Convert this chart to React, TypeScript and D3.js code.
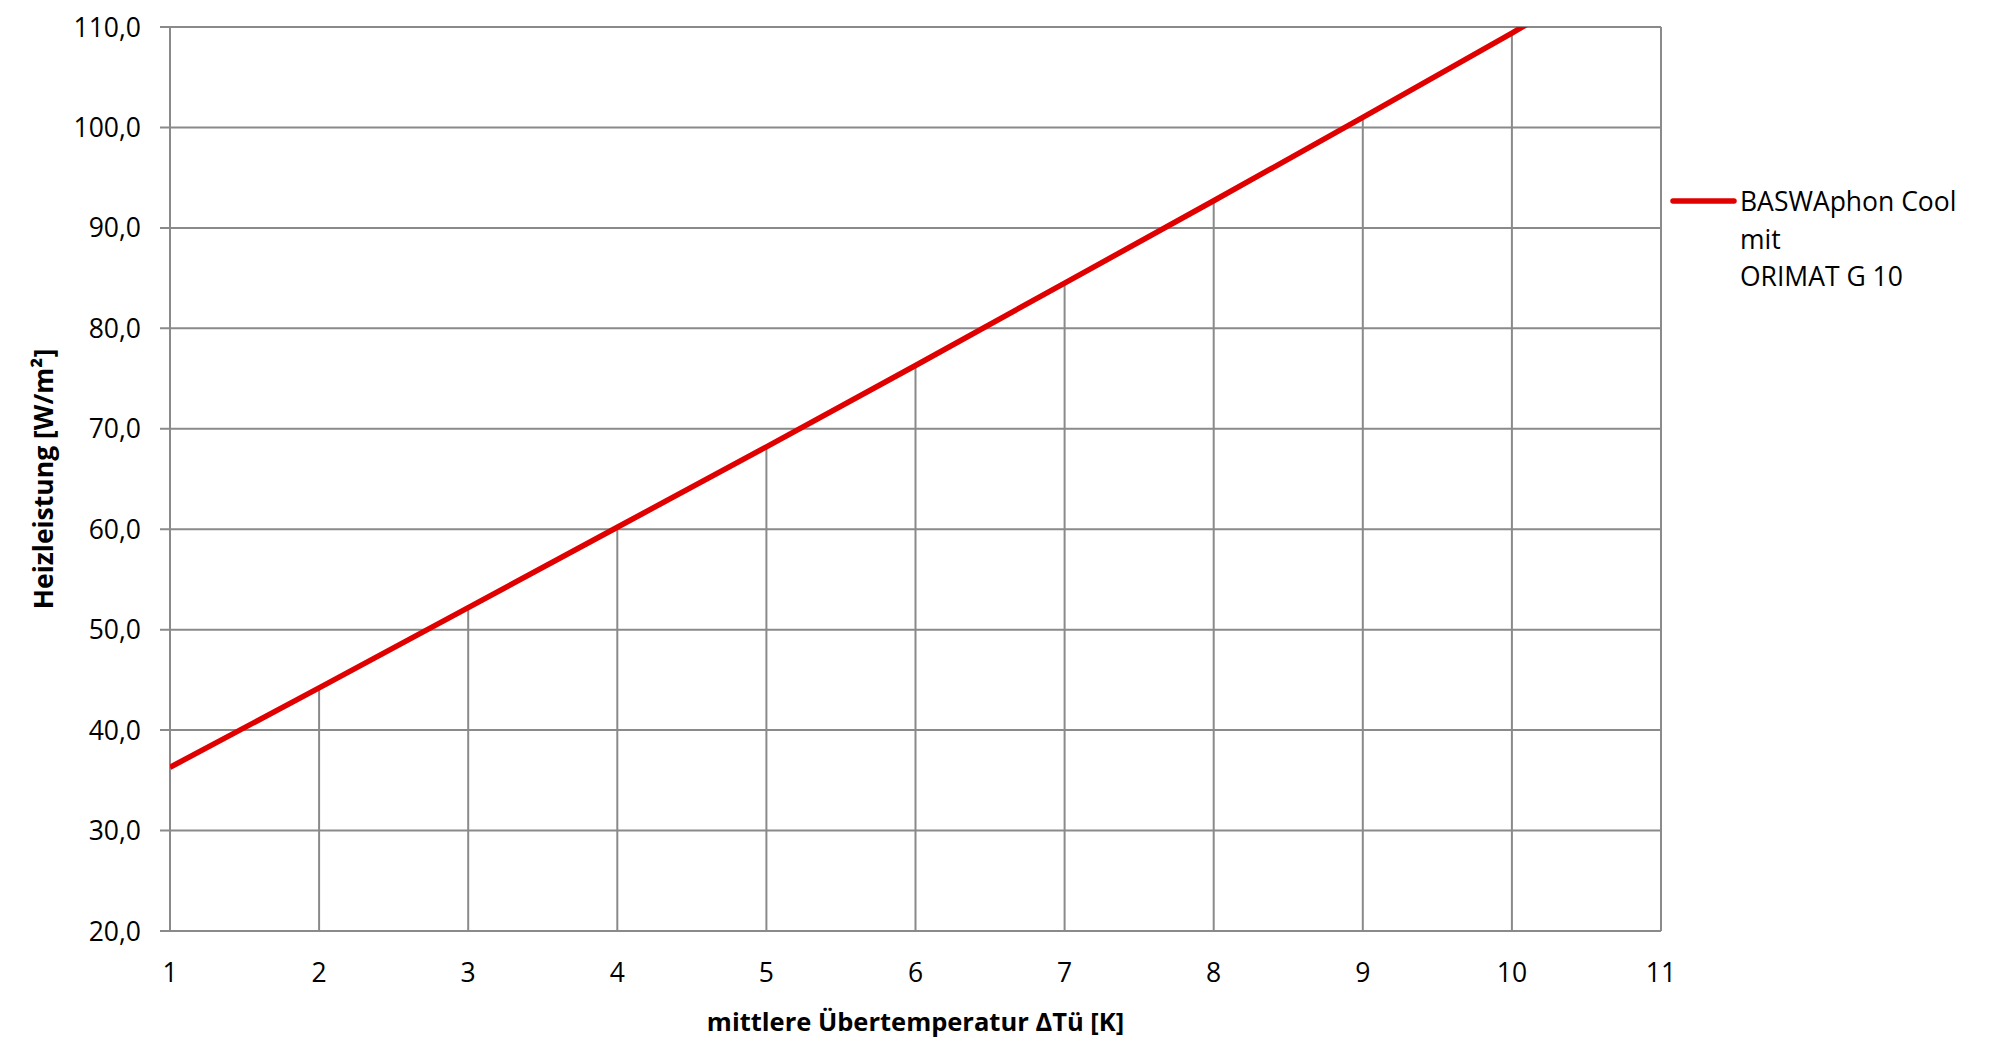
import React, { useRef, useEffect } from 'react';
import * as d3 from 'd3';

// Heizleistung über mittlere Übertemperatur
const deltaT = [1, 2, 3, 4, 5, 6, 7, 8, 9, 10, 11];
const heizleistung = [36.3, 44.2, 52.2, 60.2, 68.2, 76.3, 84.5, 92.7, 101.0, 109.4, 118.0];
const yTicks = [20, 30, 40, 50, 60, 70, 80, 90, 100, 110];
const xTicks = [1, 2, 3, 4, 5, 6, 7, 8, 9, 10, 11];
const seriesLabel = ['BASWAphon Cool', 'mit', 'ORIMAT G 10'];
const xTitle = 'mittlere Übertemperatur ΔTü [K]';
const yTitle = 'Heizleistung [W/m²]';

const App: React.FC = () => {
  const ref = useRef<SVGSVGElement | null>(null);
  const width = 2008;
  const height = 1059;

  useEffect(() => {
    if (!ref.current) return;
    const svg = d3.select(ref.current);
    svg.selectAll('*').remove();

    const left = 170, right = 1661, top = 27, bottom = 931;
    const font = "'Open Sans', sans-serif";
    const grid = '#8a8a8a';
    const red = '#e00000';

    const x = d3.scaleLinear().domain([1, 11]).range([left, right]);
    const y = d3.scaleLinear().domain([20, 110]).range([bottom, top]);
    const fmt = (v: number) => d3.format('.1f')(v).replace('.', ',');

    svg.append('rect').attr('width', width).attr('height', height).attr('fill', '#fff');

    svg.append('defs').append('clipPath').attr('id', 'plot')
      .append('rect').attr('x', left).attr('y', top).attr('width', right - left).attr('height', bottom - top);

    // horizontal gridlines with outer tick
    svg.append('g').selectAll('line').data(yTicks).enter().append('line')
      .attr('x1', left - 10).attr('x2', right)
      .attr('y1', d => y(d)).attr('y2', d => y(d))
      .attr('stroke', grid).attr('stroke-width', 2);

    // drop lines
    const pts = deltaT.map((d, i) => ({ x: d, v: heizleistung[i] }));
    svg.append('g').attr('clip-path', 'url(#plot)').selectAll('line').data(pts).enter().append('line')
      .attr('x1', d => x(d.x)).attr('x2', d => x(d.x))
      .attr('y1', y(20)).attr('y2', d => y(d.v))
      .attr('stroke', grid).attr('stroke-width', 2);

    // axis + border
    svg.append('line').attr('x1', left).attr('x2', left).attr('y1', top).attr('y2', bottom)
      .attr('stroke', grid).attr('stroke-width', 2);
    svg.append('line').attr('x1', right).attr('x2', right).attr('y1', top).attr('y2', bottom)
      .attr('stroke', grid).attr('stroke-width', 2);

    // series
    const line = d3.line<{ x: number; v: number }>().x(d => x(d.x)).y(d => y(d.v));
    svg.append('path').datum(pts).attr('clip-path', 'url(#plot)')
      .attr('d', line).attr('fill', 'none').attr('stroke', red).attr('stroke-width', 5.5);

    // y tick labels
    svg.append('g').selectAll('text').data(yTicks).enter().append('text')
      .attr('x', 141).attr('y', d => y(d) + 9.5)
      .attr('text-anchor', 'end').attr('font-family', font).attr('font-size', 26.5)
      .attr('fill', '#000').text(d => fmt(d));

    // x tick labels
    svg.append('g').selectAll('text').data(xTicks).enter().append('text')
      .attr('x', d => x(d)).attr('y', 982)
      .attr('text-anchor', 'middle').attr('font-family', font).attr('font-size', 26.5)
      .attr('fill', '#000').text(d => String(d));

    // axis titles
    svg.append('text').attr('x', (left + right) / 2).attr('y', 1031)
      .attr('text-anchor', 'middle').attr('font-family', font).attr('font-size', 25.5)
      .attr('font-weight', 'bold').attr('fill', '#000').text(xTitle);
    svg.append('text').attr('transform', `translate(53, ${(top + bottom) / 2}) rotate(-90)`)
      .attr('text-anchor', 'middle').attr('font-family', font).attr('font-size', 26.5)
      .attr('font-weight', 'bold').attr('fill', '#000').text(yTitle);

    // legend
    const lg = svg.append('g');
    lg.append('line').attr('x1', 1673).attr('x2', 1734).attr('y1', 201).attr('y2', 201)
      .attr('stroke', red).attr('stroke-width', 5.5).attr('stroke-linecap', 'round');
    lg.selectAll('text').data(seriesLabel).enter().append('text')
      .attr('x', 1740).attr('y', (d, i) => 211 + i * 37.5)
      .attr('font-family', font).attr('font-size', 26.5).attr('fill', '#000').text(d => d);
  }, []);

  return (
    <svg ref={ref} width={width} height={height}
      style={{ position: 'absolute', left: 0, top: 0, display: 'block' }} />
  );
};

export default App;
